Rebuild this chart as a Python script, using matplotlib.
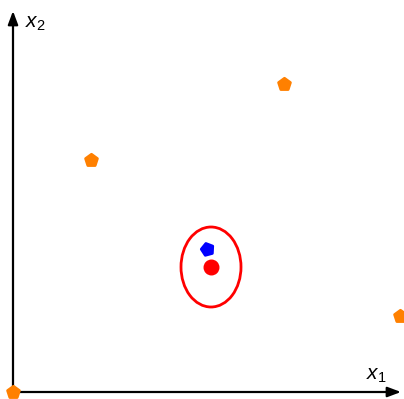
import matplotlib
matplotlib.use("Agg")
import matplotlib.pyplot as plt
from matplotlib.patches import Ellipse

plt.rcParams['mathtext.fontset'] = 'custom'
plt.rcParams['mathtext.it'] = 'Liberation Sans:italic'
plt.rcParams['mathtext.rm'] = 'Liberation Sans'

# data (in plot units)
orange_x = [0, 78, 271, 387]
orange_y = [0, 232, 308, 76]
blue_x = [194]
blue_y = [143]
red_x = [198]
red_y = [125]
ell_w, ell_h = 60, 80

fig = plt.figure(figsize=(4.04, 3.99), dpi=100)
ax = fig.add_axes([0, 0, 1, 1])
ax.set_xlim(-13, 391)
ax.set_ylim(-7, 392)
ax.axis('off')

ap = dict(arrowstyle='-|>,head_length=0.8,head_width=0.3', color='black', lw=1.6,
          shrinkA=0, shrinkB=0)
ax.annotate('', xy=(388, 0), xytext=(0, 0), arrowprops=ap)
ax.annotate('', xy=(0, 381), xytext=(0, 0), arrowprops=ap)
ax.text(363, 17, r'$x_1$', fontsize=15, ha='center', va='center')
ax.text(22, 369, r'$x_2$', fontsize=15, ha='center', va='center')

sc = ax.scatter(orange_x, orange_y, marker='p', s=80, color='#ff8000', edgecolor='#ff8000',
                linewidth=2, zorder=5, clip_on=False)
sc.set_joinstyle('round')
sb = ax.scatter(blue_x, blue_y, marker=(5, 0, 15), s=80, color='blue', edgecolor='blue',
                linewidth=2, zorder=5)
sb.set_joinstyle('round')
ax.scatter(red_x, red_y, marker='o', s=110, color='red', zorder=5)
ax.add_patch(Ellipse((red_x[0], red_y[0]), ell_w, ell_h, fill=False, edgecolor='red', lw=2))

fig.savefig('out.png', dpi=100)
